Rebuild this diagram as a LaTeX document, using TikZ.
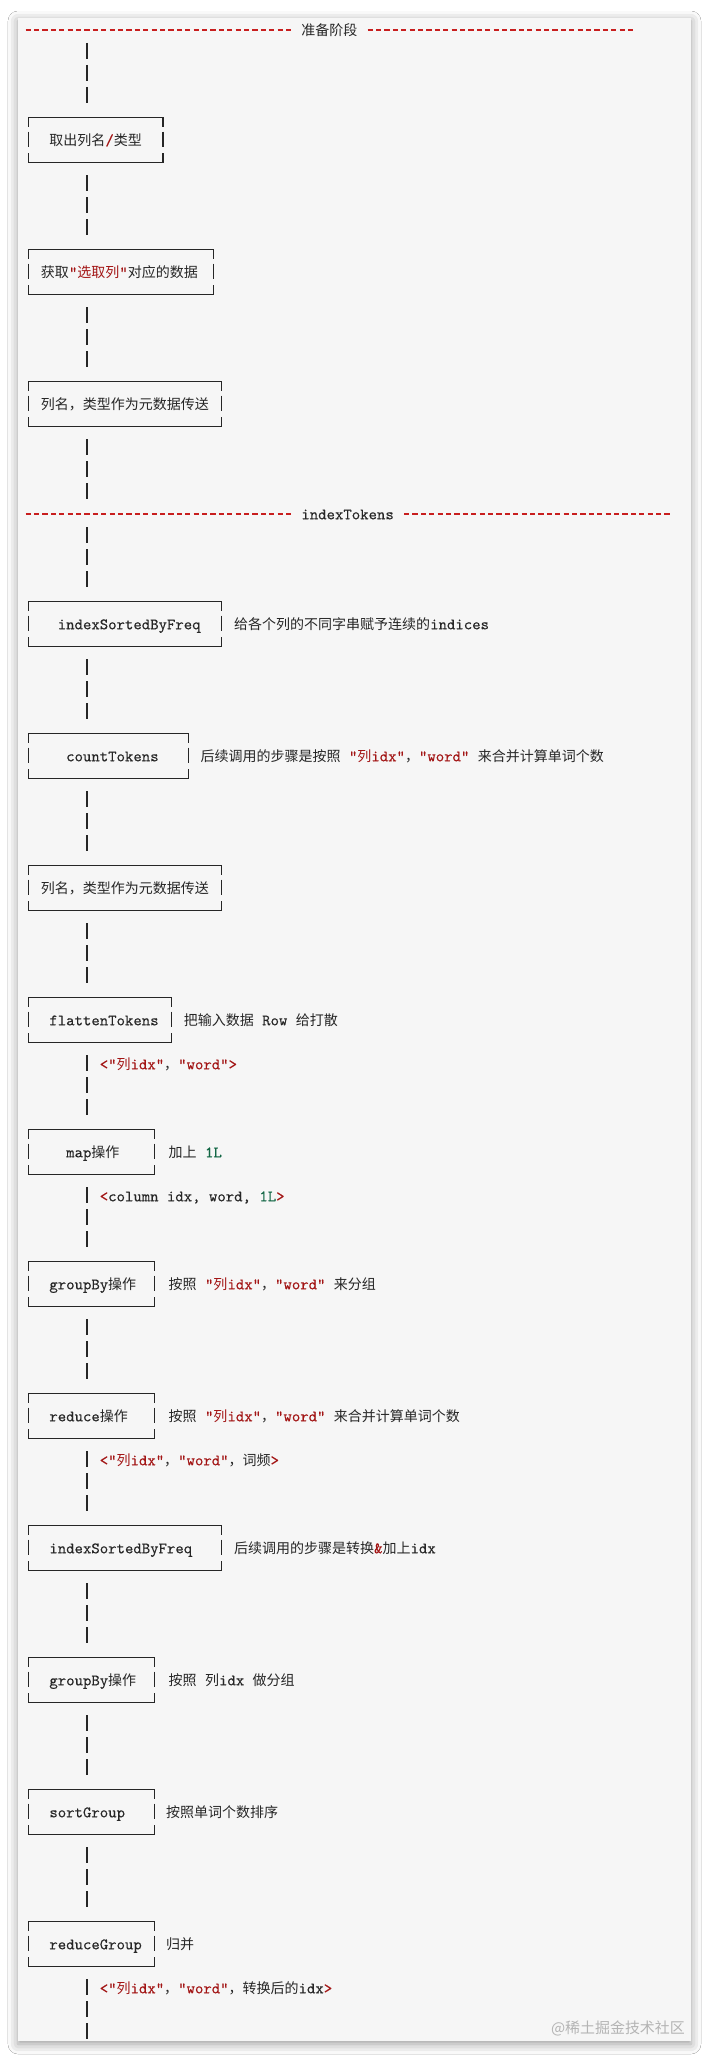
\documentclass[tikz,border=0pt]{standalone}
\usepackage{fontspec}
\usepackage{tikz}
\usetikzlibrary{shadows.blur}
\newfontfamily\codefont{lmmono10-regular.otf}[Ligatures=TeXOff, FakeBold=0.25]
\newfontfamily\zhfont{Noto Sans CJK SC}[Scale=0.875]
\definecolor{ink}{HTML}{262626}
\definecolor{rulered}{RGB}{200,30,30}
\definecolor{strred}{RGB}{163,21,21}
\definecolor{numgreen}{HTML}{116644}
\definecolor{cardbg}{HTML}{F6F6F6}
\definecolor{wmgray}{HTML}{B4B4B4}
\newlength{\colw}
\setlength{\colw}{8.4pt}
\newcommand{\zh}[1]{{\zhfont#1}}
\newcommand{\hlstr}[1]{\textcolor{strred}{#1}}
\newcommand{\hlnum}[1]{\textcolor{numgreen}{#1}}
\newcommand{\stepCell}[3]{\makebox[#1\colw][l]{\hspace*{#2\colw}#3}}
\newcommand{\stepFrame}[1]{%
\draw[boxline] ([yshift=-9pt]#1.north west) -- (#1.north west) -- (#1.north east) -- ([yshift=-9pt]#1.north east);
\draw[boxline] ([yshift=8.3pt]#1.west) -- ([yshift=-6.7pt]#1.west);
\draw[boxline] ([yshift=8.3pt]#1.east) -- ([yshift=-6.7pt]#1.east);
\draw[boxline] ([yshift=9pt]#1.south west) -- (#1.south west) -- (#1.south east) -- ([yshift=9pt]#1.south east);
}

\begin{document}
\begin{tikzpicture}[x=8.4pt,y=-22pt,
  txt/.style={anchor=west, inner sep=0pt, text height=12pt, text depth=1.4pt, text=ink, font=\codefont\fontsize{16pt}{22pt}\selectfont\frenchspacing},
  stepbox/.style={txt, minimum height=44pt},
  boxline/.style={draw=ink, line width=1.25pt},
  flow/.style={draw=ink, line width=1.25pt, dash pattern=on 16pt off 6pt, shorten <=13pt, shorten >=15pt},
  titlerule/.style={draw=rulered, line width=1.3pt, dash pattern=on 5.2pt off 3.2pt, dash phase=6.8pt}]
\fill[white] (-2.857,-1.3636) rectangle (81.548,92.2727);
\useasboundingbox (-2.857,-1.3636) rectangle (81.548,92.2727);
\fill[cardbg, blur shadow={shadow xshift=0pt, shadow yshift=-3pt, shadow blur radius=10pt, shadow opacity=40}] (-0.7143,-0.5455) rectangle (79.405,91.409);
\coordinate (spine) at (7.5,0);
\coordinate (flowend) at (7.5,92);

\node[txt] (t1) at (33,0) {\zh{准备阶段}};
\draw[titlerule] (0,0) -- ([xshift=-8.4pt]t1.west);
\draw[titlerule] ([xshift=8.4pt]t1.east) -- ++(32,0);

\node[stepbox] (b1) at (0.5,5) {\stepCell{16}{2.5}{\zh{取出列名}\hlstr{/}\zh{类型}}};
\stepFrame{b1}
\node[stepbox] (b2) at (0.5,11) {\stepCell{22}{1.5}{\zh{获取}\hlstr{"\zh{选取列}"}\zh{对应的数据}}};
\stepFrame{b2}
\node[stepbox] (b3) at (0.5,17) {\stepCell{23}{1.5}{\zh{列名，类型作为元数据传送}}};
\stepFrame{b3}

\node[txt] (t2) at (33,22) {indexTokens};
\draw[titlerule] (0,22) -- ([xshift=-8.4pt]t2.west);
\draw[titlerule] ([xshift=8.4pt]t2.east) -- ++(32,0);

\node[stepbox] (b4) at (0.5,27) {\stepCell{23}{3.5}{indexSortedByFreq}};
\stepFrame{b4}
\node[txt] (n4) at (25,27) {\zh{给各个列的不同字串赋予连续的}indices};
\node[stepbox] (b5) at (0.5,33) {\stepCell{19}{4.5}{countTokens}};
\stepFrame{b5}
\node[txt] (n5) at (21,33) {\zh{后续调用的步骤是按照} \hlstr{"\zh{列}idx"}\zh{，}\hlstr{"word"} \zh{来合并计算单词个数}};
\node[stepbox] (b6) at (0.5,39) {\stepCell{23}{1.5}{\zh{列名，类型作为元数据传送}}};
\stepFrame{b6}
\node[stepbox] (b7) at (0.5,45) {\stepCell{17}{2.5}{flattenTokens}};
\stepFrame{b7}
\node[txt] (n7) at (19,45) {\zh{把输入数据} Row \zh{给打散}};
\node[txt] (l7) at (9,47) {\hlstr{<"\zh{列}idx"}\zh{，}\hlstr{"word">}};
\node[stepbox] (b8) at (0.5,51) {\stepCell{15}{4.5}{map\zh{操作}}};
\stepFrame{b8}
\node[txt] (n8) at (17.2,51) {\zh{加上} \hlnum{1L}};
\node[txt] (l8) at (9,53) {\hlstr{<}column idx, word, \hlnum{1L}\hlstr{>}};
\node[stepbox] (b9) at (0.5,57) {\stepCell{15}{2.5}{groupBy\zh{操作}}};
\stepFrame{b9}
\node[txt] (n9) at (17.2,57) {\zh{按照} \hlstr{"\zh{列}idx"}\zh{，}\hlstr{"word"} \zh{来分组}};
\node[stepbox] (b10) at (0.5,63) {\stepCell{15}{2.5}{reduce\zh{操作}}};
\stepFrame{b10}
\node[txt] (n10) at (17.2,63) {\zh{按照} \hlstr{"\zh{列}idx"}\zh{，}\hlstr{"word"} \zh{来合并计算单词个数}};
\node[txt] (l10) at (9,65) {\hlstr{<"\zh{列}idx"}\zh{，}\hlstr{"word"}\zh{，词频}\hlstr{>}};
\node[stepbox] (b11) at (0.5,69) {\stepCell{23}{2.5}{indexSortedByFreq}};
\stepFrame{b11}
\node[txt] (n11) at (25,69) {\zh{后续调用的步骤是转换}\hlstr{\&}\zh{加上}idx};
\node[stepbox] (b12) at (0.5,75) {\stepCell{15}{2.5}{groupBy\zh{操作}}};
\stepFrame{b12}
\node[txt] (n12) at (17.2,75) {\zh{按照} \zh{列}idx \zh{做分组}};
\node[stepbox] (b13) at (0.5,81) {\stepCell{15}{2.5}{sortGroup}};
\stepFrame{b13}
\node[txt] (n13) at (16.9,81) {\zh{按照单词个数排序}};
\node[stepbox] (b14) at (0.5,87) {\stepCell{15}{2.5}{reduceGroup}};
\stepFrame{b14}
\node[txt] (n14) at (16.9,87) {\zh{归并}};
\node[txt] (l14) at (9,89) {\hlstr{<"\zh{列}idx"}\zh{，}\hlstr{"word"}\zh{，转换后的}idx\hlstr{>}};

\draw[flow] (t1.center -| spine) -- (b1.north -| spine);
\draw[flow] (b1.south -| spine) -- (b2.north -| spine);
\draw[flow] (b2.south -| spine) -- (b3.north -| spine);
\draw[flow] (b3.south -| spine) -- (t2.center -| spine);
\draw[flow] (t2.center -| spine) -- (b4.north -| spine);
\draw[flow] (b4.south -| spine) -- (b5.north -| spine);
\draw[flow] (b5.south -| spine) -- (b6.north -| spine);
\draw[flow] (b6.south -| spine) -- (b7.north -| spine);
\draw[flow] (b7.south -| spine) -- (b8.north -| spine);
\draw[flow] (b8.south -| spine) -- (b9.north -| spine);
\draw[flow] (b9.south -| spine) -- (b10.north -| spine);
\draw[flow] (b10.south -| spine) -- (b11.north -| spine);
\draw[flow] (b11.south -| spine) -- (b12.north -| spine);
\draw[flow] (b12.south -| spine) -- (b13.north -| spine);
\draw[flow] (b13.south -| spine) -- (b14.north -| spine);
\draw[flow] (b14.south -| spine) -- (flowend);

\node[txt, anchor=east, text=wmgray, font=\zhfont\fontsize{17.1pt}{20pt}\selectfont] (wm) at (78.7,90.82) {@稀土掘金技术社区};
\end{tikzpicture}
\end{document}
